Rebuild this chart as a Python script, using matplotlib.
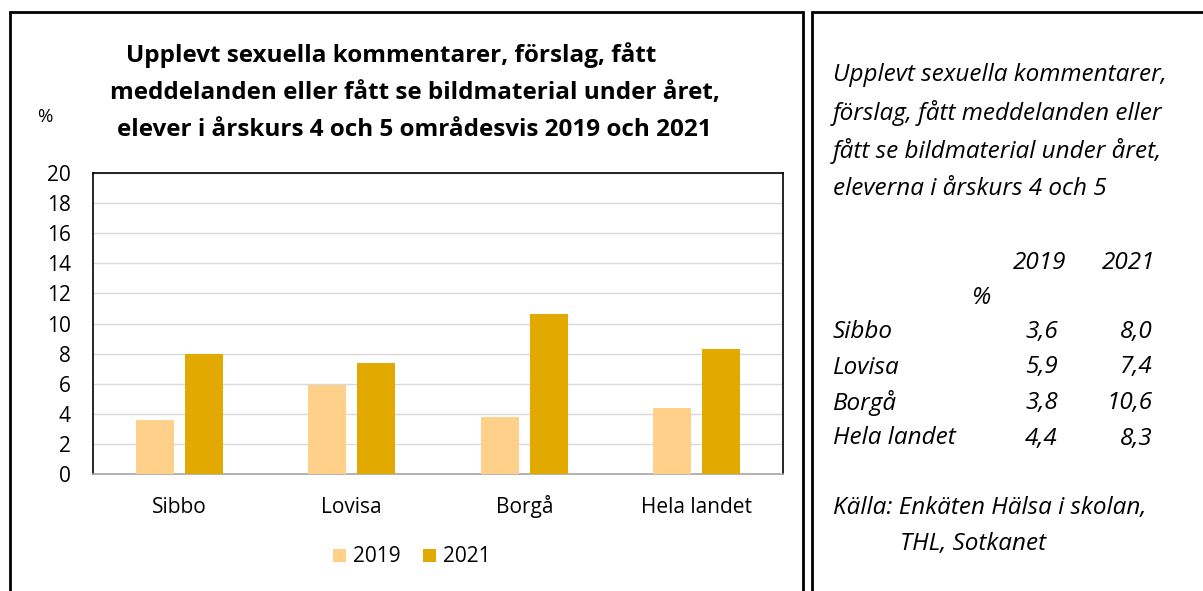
import matplotlib.pyplot as plt
import numpy as np
from matplotlib.patches import Rectangle

# data
areas = ["Sibbo", "Lovisa", "Borgå", "Hela landet"]
years = ["2019", "2021"]
values_2019 = [3.6, 5.9, 3.8, 4.4]
values_2021 = [8.0, 7.4, 10.6, 8.3]
yticks = list(range(0, 21, 2))

title_lines = ["Upplevt sexuella kommentarer, förslag, fått",
               "meddelanden eller fått se bildmaterial under året,",
               "elever i årskurs 4 och 5 områdesvis 2019 och 2021"]
side_title = ["Upplevt sexuella kommentarer,",
              "förslag, fått meddelanden eller",
              "fått se bildmaterial under året,",
              "eleverna i årskurs 4 och 5"]
source = ["Källa: Enkäten Hälsa i skolan,", "THL, Sotkanet"]

col_2019 = "#FFD08A"
col_2021 = "#E2AA00"

plt.rcParams["font.family"] = ["Open Sans", "DejaVu Sans"]

W, H = 1203, 591
fig = plt.figure(figsize=(W / 100, H / 100), dpi=100)


def fx(px):
    return px / W


def fy(py):
    return 1 - py / H


# panel boxes
fig.patches.append(Rectangle((fx(10), fy(600)), fx(793), (600 - 12) / H,
                             transform=fig.transFigure, fill=False,
                             edgecolor="black", linewidth=2))
fig.patches.append(Rectangle((fx(812), fy(600)), fx(400), (600 - 12) / H,
                             transform=fig.transFigure, fill=False,
                             edgecolor="black", linewidth=2))

ax = fig.add_axes([fx(93), fy(474), fx(690), (474 - 173) / H])
x = np.arange(len(areas))
w = 0.22
off = 0.143
ax.bar(x - off, values_2019, w, color=col_2019, label=years[0], zorder=3)
ax.bar(x + off, values_2021, w, color=col_2021, label=years[1], zorder=3)

ax.set_xlim(-0.5, len(areas) - 0.5)
ax.set_ylim(0, 20)
ax.set_yticks(yticks)
ax.set_xticks(x)
ax.set_xticklabels(areas)
ax.tick_params(axis="both", length=0, labelsize=15, colors="black")
ax.tick_params(axis="x", pad=28)
ax.tick_params(axis="y", pad=16)
for lbl in ax.get_xticklabels():
    lbl.set_va("baseline")
ax.grid(axis="y", color="#D9D9D9", linewidth=1, zorder=0)
for s in ["top", "left", "right"]:
    ax.spines[s].set_color("black")
    ax.spines[s].set_linewidth(1.2)
ax.spines["bottom"].set_color("#A6A6A6")
ax.spines["bottom"].set_linewidth(1.2)

leg = ax.legend(loc="center", bbox_to_anchor=(fx(412), fy(557)),
                bbox_transform=fig.transFigure, ncol=2, frameon=False,
                fontsize=15, handlelength=0.6, handleheight=0.6,
                handletextpad=0.35, columnspacing=1.1)

# chart title, first line sits a bit left as in the original
for xc, yc, line in zip([391, 415, 414], [55, 93, 130], title_lines):
    fig.text(fx(xc), fy(yc), line, ha="center", va="center",
             fontsize=17.5, fontweight="bold")
fig.text(fx(45), fy(117), "%", ha="center", va="center", fontsize=13.5)

# side panel text
fs = 17.5
for i, line in enumerate(side_title):
    fig.text(fx(833), fy(75 + 38 * i), line, ha="left", va="center",
             fontsize=fs, style="italic")

fig.text(fx(1066), fy(263), years[0], ha="right", va="center",
         fontsize=fs, style="italic")
fig.text(fx(1155), fy(263), years[1], ha="right", va="center",
         fontsize=fs, style="italic")
fig.text(fx(981), fy(298), "%", ha="center", va="center",
         fontsize=fs, style="italic")

for i, name in enumerate(areas):
    yy = fy(332 + 35.5 * i)
    fig.text(fx(833), yy, name, ha="left", va="center",
             fontsize=fs, style="italic")
    fig.text(fx(1058), yy, f"{values_2019[i]:.1f}".replace(".", ","),
             ha="right", va="center", fontsize=fs, style="italic")
    fig.text(fx(1153), yy, f"{values_2021[i]:.1f}".replace(".", ","),
             ha="right", va="center", fontsize=fs, style="italic")

fig.text(fx(833), fy(508), source[0], ha="left", va="center",
         fontsize=fs, style="italic")
fig.text(fx(900), fy(544), source[1], ha="left", va="center",
         fontsize=fs, style="italic")

fig.savefig("out.png", dpi=100)
